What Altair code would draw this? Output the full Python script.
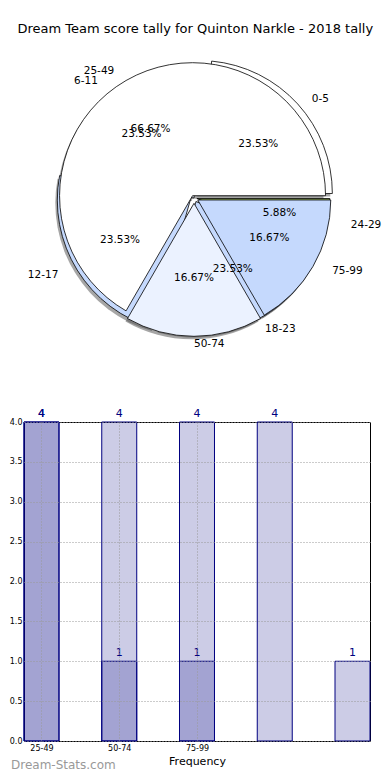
import math
import pandas as pd
import altair as alt

title_text = "Dream Team score tally for Quinton Narkle - 2018 tally"

# first pie (drawn underneath)
pie_a_labels = ["0-5", "6-11", "12-17", "18-23", "24-29"]
pie_a_values = [4, 4, 4, 4, 1]
pie_a_colors = ["#ffffff", "#ebf2ff", "#c5d9fd", "#c5d9fd", "#8faa5c"]
pie_a_explode = [0.05, 0.0, 0.03, 0.03, 0.02]

# second pie (drawn on top)
pie_b_labels = ["25-49", "50-74", "75-99"]
pie_b_values = [4, 1, 1]
pie_b_colors = ["#ffffff", "#ebf2ff", "#c5d9fd"]
pie_b_explode = [0.02, 0.04, 0.03]

# bars
bar_b_values = [4, 4, 4, 4, 1]   # lighter series, slots 0..4
bar_a_values = [4, 1, 1]         # overlay series, slots 0..2
tick_labels = ["25-49", "50-74", "75-99"]

FONT = "DejaVu Sans"
NAVY = "#000080"

# layout
WB, HB = 346, 319          # bar plot area
WP, HP = 346, 340          # pie panel
KX, KY = 145.0, 133.0      # px per unit for pie label geometry
CX_LOC, CY_LOC = 170.0, 152.0
R = 133


def pie_frame(labels, values, colors, explode):
    total = float(sum(values))
    rows = []
    cum = 0.0
    for lab, v, col, e in zip(labels, values, colors, explode):
        start = cum / total
        cum += v
        end = cum / total
        mid = (start + end) * math.pi
        c, s = math.cos(mid), math.sin(mid)
        rows.append(dict(
            label=lab, color=col, start=start, end=end,
            cx=e * c, cy=e * s,
            lx=1.1 * c, ly=1.1 * s,
            px=0.6 * c, py=0.6 * s,
            pct=f"{100.0 * v / total:.2f}%",
            side="right" if c > -1e-9 else "left",
        ))
    return pd.DataFrame(rows)


df_a = pie_frame(pie_a_labels, pie_a_values, pie_a_colors, pie_a_explode)
df_b = pie_frame(pie_b_labels, pie_b_values, pie_b_colors, pie_b_explode)
df_all = pd.concat([df_a, df_b], ignore_index=True)

xs = alt.Scale(domain=[-CX_LOC / KX, (WP - CX_LOC) / KX], nice=False, zero=False)
ys = alt.Scale(domain=[-(HP - CY_LOC) / KY, CY_LOC / KY], nice=False, zero=False)
ts = alt.Scale(domain=[0, 1], range=[math.pi / 2, math.pi / 2 - 2 * math.pi])


def arcs(df, shadow=False):
    if shadow:
        m = alt.Chart(df).mark_arc(outerRadius=R, fill="#4d4d4d", opacity=0.5,
                                   xOffset=-2, yOffset=3)
    else:
        m = alt.Chart(df).mark_arc(outerRadius=R, stroke="black", strokeWidth=0.8)
    enc = dict(
        x=alt.X("cx:Q", scale=xs, axis=None),
        y=alt.Y("cy:Q", scale=ys, axis=None),
        theta=alt.Theta("start:Q", scale=ts, stack=False),
        theta2="end:Q",
    )
    if not shadow:
        enc["fill"] = alt.Color("color:N", scale=None)
    return m.encode(**enc)


lab_right = alt.Chart(df_all).transform_filter(alt.datum.side == "right").mark_text(
    align="left", baseline="middle", font=FONT, fontSize=10.5, color="black"
).encode(x=alt.X("lx:Q", scale=xs, axis=None), y=alt.Y("ly:Q", scale=ys, axis=None), text="label:N")
lab_left = alt.Chart(df_all).transform_filter(alt.datum.side == "left").mark_text(
    align="right", baseline="middle", font=FONT, fontSize=10.5, color="black"
).encode(x=alt.X("lx:Q", scale=xs, axis=None), y=alt.Y("ly:Q", scale=ys, axis=None), text="label:N")
pct = alt.Chart(df_all).mark_text(
    align="center", baseline="middle", font=FONT, fontSize=10.5, color="black"
).encode(x=alt.X("px:Q", scale=xs, axis=None), y=alt.Y("py:Q", scale=ys, axis=None), text="pct:N")

pie = alt.layer(
    arcs(df_a, True), arcs(df_b, True), arcs(df_a), arcs(df_b), lab_right, lab_left, pct
).properties(width=WP, height=HP, view=alt.ViewBackground(stroke="transparent"))

# ---- bar panel
df_bb = pd.DataFrame({"pos": list(range(len(bar_b_values))), "value": bar_b_values})
df_ba = pd.DataFrame({"pos": list(range(len(bar_a_values))), "value": bar_a_values})
nb = len(bar_b_values)
xbs = alt.Scale(domain=[-0.225, nb - 1 + 0.225], nice=False, zero=False, padding=0)
ybs = alt.Scale(domain=[0, 4], nice=False, padding=0)
bar_w = 0.45 * WB / (nb - 1 + 0.45)
label_expr = "[" + ",".join("'%s'" % t for t in tick_labels) + "][datum.value]"

xaxis = alt.Axis(values=list(range(len(tick_labels))), labelExpr=label_expr,
                 grid=True, gridDash=[1, 2], gridColor="#999999", gridWidth=1,
                 domain=False, ticks=False, labelFontSize=8, labelPadding=3,
                 labelColor="black", title="Frequency", titleFontSize=11,
                 titleFontWeight="normal", titleColor="black", titlePadding=3,
                 zindex=1)
yaxis = alt.Axis(values=[i * 0.5 for i in range(9)], format=".1f",
                 grid=True, gridDash=[1, 2], gridColor="#999999", gridWidth=1,
                 domain=False, ticks=False, labelFontSize=8, labelPadding=2,
                 labelColor="black", title=None, zindex=1)


def bar_layers(df):
    enc_x = alt.X("pos:Q", scale=xbs, axis=xaxis)
    enc_y = alt.Y("value:Q", scale=ybs, axis=yaxis)
    b = alt.Chart(df).mark_bar(width=bar_w, orient="vertical", fill=NAVY, fillOpacity=0.2,
                               stroke=NAVY, strokeWidth=1).encode(x=enc_x, y=enc_y)
    t = alt.Chart(df).mark_text(baseline="bottom", dy=-3, font=FONT, fontSize=11,
                                color=NAVY).encode(x=enc_x, y=enc_y, text="value:Q")
    return [b, t]


wm = alt.Chart(pd.DataFrame({"t": ["Dream-Stats.com"]})).mark_text(
    align="left", baseline="middle", font=FONT, fontSize=12, color="#999999"
).encode(x=alt.value(-13), y=alt.value(HB + 24), text="t:N")

bars = alt.layer(*bar_layers(df_bb), *bar_layers(df_ba), wm).properties(
    width=WB, height=HB, view=alt.ViewBackground(stroke="black", strokeWidth=1)
)

chart = alt.vconcat(pie, bars, spacing=36, bounds="flush").properties(
    title=alt.TitleParams(title_text, anchor="middle", font=FONT, fontSize=13,
                          fontWeight="normal", color="black", offset=10),
    padding={"left": 0, "top": 14, "right": 0, "bottom": 0},
).configure(font=FONT)

chart.save("out.html", embed_options={"renderer": "svg", "actions": False})
